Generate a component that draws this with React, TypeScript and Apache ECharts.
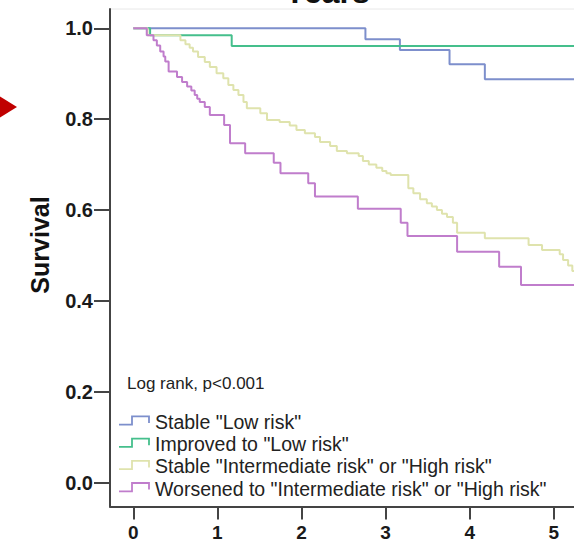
import React, { useEffect, useRef } from "react";
import * as echarts from "echarts";

const FONT = "'Liberation Sans', Arial, Helvetica, sans-serif";

// Axis ticks
const yearTicks = [0, 1, 2, 3, 4, 5];
const survivalTicks = [0, 0.2, 0.4, 0.6, 0.8, 1.0];

// Series names
const seriesNames = [
  'Stable "Low risk"',
  'Improved to "Low risk"',
  'Stable "Intermediate risk" or "High risk"',
  'Worsened to "Intermediate risk" or "High risk"',
];
const seriesColors = ["#7d8fcc", "#45bf8c", "#dfe3ad", "#c07dcc"];

// Kaplan-Meier step data: [time in years, survival after the step]
const stableLow: number[][] = [
  [0, 1], [2.76, 0.976], [3.17, 0.952], [3.76, 0.921], [4.18, 0.888], [5.24, 0.888],
];
const improvedLow: number[][] = [
  [0, 1], [0.2, 0.985], [1.17, 0.961], [5.24, 0.961],
];
const stableIntHigh: number[][] = [
  [0, 1], [0.17, 0.985], [0.56, 0.974], [0.62, 0.965], [0.67, 0.957], [0.71, 0.949],
  [0.77, 0.937], [0.85, 0.926], [0.91, 0.915], [0.99, 0.901], [1.07, 0.89], [1.13, 0.875],
  [1.19, 0.864], [1.25, 0.853], [1.31, 0.838], [1.35, 0.824], [1.51, 0.813], [1.59, 0.798],
  [1.74, 0.794], [1.86, 0.786], [1.94, 0.776], [2.04, 0.769], [2.16, 0.761], [2.22, 0.75],
  [2.34, 0.741], [2.42, 0.73], [2.54, 0.725], [2.68, 0.719], [2.73, 0.708], [2.8, 0.7],
  [2.89, 0.693], [2.96, 0.686], [3.01, 0.681], [3.06, 0.677], [3.27, 0.648], [3.33, 0.637],
  [3.41, 0.624], [3.49, 0.615], [3.55, 0.608], [3.61, 0.6], [3.67, 0.592], [3.73, 0.585],
  [3.8, 0.572], [3.85, 0.55], [4.18, 0.538], [4.7, 0.523], [4.86, 0.512], [5.07, 0.503],
  [5.11, 0.49], [5.17, 0.478], [5.22, 0.466], [5.24, 0.466],
];
const worsenedIntHigh: number[][] = [
  [0, 1], [0.16, 0.985], [0.24, 0.974], [0.28, 0.962], [0.32, 0.949], [0.36, 0.938],
  [0.38, 0.927], [0.42, 0.905], [0.52, 0.893], [0.58, 0.882], [0.64, 0.872], [0.69, 0.863],
  [0.73, 0.853], [0.76, 0.845], [0.79, 0.838], [0.85, 0.827], [0.91, 0.809], [1.08, 0.787],
  [1.15, 0.747], [1.33, 0.725], [1.67, 0.704], [1.75, 0.681], [2.08, 0.659], [2.16, 0.63],
  [2.67, 0.603], [3.18, 0.572], [3.26, 0.543], [3.85, 0.508], [4.35, 0.475], [4.61, 0.435],
  [5.24, 0.435],
];

const allData = [stableLow, improvedLow, stableIntHigh, worsenedIntHigh];

const logRankText = "Log rank, p<0.001";
const xTitle = "Years";
const yTitle = "Survival";

export default function App() {
  const ref = useRef<HTMLDivElement>(null);

  useEffect(() => {
    document.body.style.margin = "0";
    const chart = echarts.init(ref.current!, null, { renderer: "svg" });

    const axisColor = "#444";
    const legendGraphics: any[] = [];
    seriesNames.forEach((name, i) => {
      const yc = 422 + i * 22.2;
      legendGraphics.push({
        type: "polyline",
        shape: {
          points: [
            [119, yc + 2.7],
            [132, yc + 2.7],
            [132, yc - 5.6],
            [149, yc - 5.6],
            [149, yc + 1],
          ],
        },
        style: { stroke: seriesColors[i], lineWidth: 1.8, fill: "none" },
      });
      legendGraphics.push({
        type: "text",
        x: 155,
        y: yc,
        style: {
          text: name,
          font: `19.5px ${FONT}`,
          fill: "#222",
          align: "left",
          verticalAlign: "middle",
        },
      });
    });

    const option: any = {
      animation: false,
      backgroundColor: "#ffffff",
      grid: {
        left: 110,
        top: 9,
        right: 0,
        bottom: 35.5,
        containLabel: false,
        outerBoundsMode: "none",
      },
      xAxis: {
        type: "value",
        min: -0.277,
        max: 5.24,
        axisLine: { show: true, onZero: false, lineStyle: { color: axisColor, width: 2 } },
        axisTick: {
          show: true,
          customValues: yearTicks,
          length: 13,
          lineStyle: { color: axisColor, width: 2 },
        },
        axisLabel: {
          customValues: yearTicks,
          margin: 16,
          fontFamily: FONT,
          fontWeight: "bold",
          fontSize: 19,
          color: "#1a1a1a",
          formatter: (v: number) => String(v),
        },
        splitLine: { show: false },
      },
      yAxis: {
        type: "value",
        min: -0.0524,
        max: 1.0425,
        axisLine: { show: true, onZero: false, lineStyle: { color: axisColor, width: 2 } },
        axisTick: {
          show: true,
          customValues: survivalTicks,
          length: 16,
          lineStyle: { color: axisColor, width: 2 },
        },
        axisLabel: {
          customValues: survivalTicks,
          margin: 17,
          fontFamily: FONT,
          fontWeight: "bold",
          fontSize: 20,
          color: "#1a1a1a",
          formatter: (v: number) => v.toFixed(1),
        },
        splitLine: { show: false },
      },
      series: allData.map((d, i) => ({
        type: "line",
        name: seriesNames[i],
        data: d,
        step: "end",
        showSymbol: false,
        symbol: "none",
        lineStyle: { color: seriesColors[i], width: 2 },
        itemStyle: { color: seriesColors[i] },
        z: 3 + (i === 3 ? 1 : 0),
      })),
      graphic: [
        {
          type: "line",
          shape: { x1: 110, y1: 9, x2: 574, y2: 9 },
          style: { stroke: "#e8e8e8", lineWidth: 1 },
        },
        {
          type: "polygon",
          shape: { points: [[-12, 89], [17, 107], [-12, 125]] },
          style: { fill: "#c00000" },
        },
        {
          type: "text",
          x: 327,
          y: 8,
          style: {
            text: xTitle,
            font: `bold 32px ${FONT}`,
            fill: "#111",
            align: "center",
            verticalAlign: "bottom",
          },
        },
        {
          type: "text",
          x: 40,
          y: 245,
          rotation: Math.PI / 2,
          style: {
            text: yTitle,
            font: `bold 25px ${FONT}`,
            fill: "#111",
            align: "center",
            verticalAlign: "middle",
          },
        },
        {
          type: "text",
          x: 127,
          y: 383,
          style: {
            text: logRankText,
            font: `17px ${FONT}`,
            fill: "#222",
            align: "left",
            verticalAlign: "middle",
          },
        },
        ...legendGraphics,
      ],
    };

    chart.setOption(option);
    return () => chart.dispose();
  }, []);

  return <div ref={ref} style={{ width: 574, height: 542 }} />;
}
